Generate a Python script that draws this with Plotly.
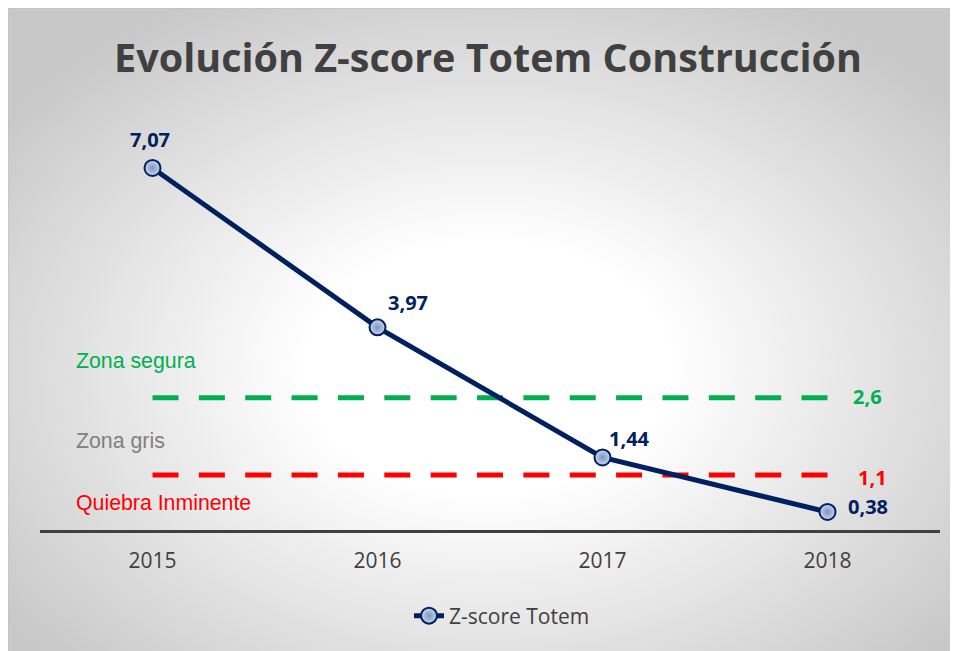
import plotly.graph_objects as go

# ---- data ----
years = ["2015", "2016", "2017", "2018"]
zscore = [7.07, 3.97, 1.44, 0.38]
safe_threshold = 2.6
distress_threshold = 1.1
series_name = "Z-score Totem"
title_text = "Evolución Z-score Totem Construcción"
zone_labels = ["Zona segura", "Zona gris", "Quiebra Inminente"]

W, H = 958, 651
NAVY = "#002060"
GREEN = "#00B050"
RED = "#FF0000"
DARK = "#404040"

def fmt(v, nd=2):
    return (f"{v:.{nd}f}").replace(".", ",")

fig = go.Figure()

# background panel with radial gradient (pixel coordinates on axis x/y)
cx, cy, ax_, by_ = 480, 360, 600, 420
fig.add_trace(go.Scatter(
    x=[cx - ax_, cx + ax_, cx + ax_, cx - ax_, cx - ax_],
    y=[cy - by_, cy - by_, cy + by_, cy + by_, cy - by_],
    mode="lines", fill="toself",
    line=dict(color="rgba(0,0,0,0)", width=0),
    fillgradient=dict(type="radial",
                      colorscale=[[0, "#FFFFFF"], [0.3, "#FFFFFF"], [1, "#C8C8C8"]]),
    xaxis="x", yaxis="y", showlegend=False, hoverinfo="skip",
))

# threshold lines
for val, col in [(safe_threshold, GREEN), (distress_threshold, RED)]:
    fig.add_trace(go.Scatter(
        x=years, y=[val] * len(years),
        mode="lines",
        line=dict(color=col, width=5, dash="26px,20.36px"),
        xaxis="x2", yaxis="y2", showlegend=False, hoverinfo="skip",
    ))

# main series
fig.add_trace(go.Scatter(
    x=years, y=zscore, name=series_name,
    mode="lines+markers",
    line=dict(color=NAVY, width=5),
    marker=dict(size=16, color="#C9D6EC",
                gradient=dict(type="radial", color="#7D95C0"),
                line=dict(color=NAVY, width=2)),
    xaxis="x2", yaxis="y2", cliponaxis=False,
))

annotations = []
# value labels (category axis: annotation x given as category index)
lab_font = dict(family="Open Sans", size=20, color=NAVY, weight="bold")
label_pos = [("center", -3, 28), ("left", 8, 25), ("left", 4, 19), ("left", 18, 5)]
for i, (v, (xa, xs, ys)) in enumerate(zip(zscore, label_pos)):
    annotations.append(dict(
        text=fmt(v), x=i, y=v, xref="x2", yref="y2",
        xanchor=xa, yanchor="middle", xshift=xs, yshift=ys,
        showarrow=False, font=lab_font,
    ))
last = len(years) - 1
# threshold labels
annotations.append(dict(
    text=fmt(safe_threshold, 1), x=last, y=safe_threshold, xref="x2", yref="y2",
    xanchor="left", yanchor="middle", xshift=23, yshift=1, showarrow=False,
    font=dict(family="Open Sans", size=20, color=GREEN, weight="bold"),
))
annotations.append(dict(
    text=fmt(distress_threshold, 1), x=last, y=distress_threshold, xref="x2", yref="y2",
    xanchor="right", yanchor="middle", xshift=61, yshift=-3, showarrow=False,
    font=dict(family="Open Sans", size=20, color=RED, weight="bold"),
))

# zone annotations
zone_y_px = [353, 433, 495]
zone_cols = [GREEN, "#808080", RED]
for lab, ypx, col in zip(zone_labels, zone_y_px, zone_cols):
    annotations.append(dict(
        text=lab, xref="paper", yref="paper",
        x=66 / W, y=(H - ypx) / H, xanchor="left", yanchor="middle",
        showarrow=False,
        font=dict(family="Liberation Sans, Arial", size=21.3, color=col),
    ))

fig.update_layout(
    width=W, height=H,
    margin=dict(l=0, r=0, t=0, b=0),
    paper_bgcolor="white", plot_bgcolor="rgba(0,0,0,0)",
    title=dict(text=title_text, x=480 / W, y=1 - 50 / H,
               xanchor="center", yanchor="middle",
               font=dict(family="Open Sans", size=39.5, color=DARK, weight="bold")),
    xaxis=dict(domain=[0, 1], range=[0, W], visible=False, fixedrange=True),
    yaxis=dict(domain=[0, 1], range=[H, 0], visible=False, fixedrange=True),
    xaxis2=dict(domain=[32 / W, 932 / W], anchor="y2", type="category",
                range=[-0.5, 3.5], showgrid=False, zeroline=False,
                showline=True, linecolor=DARK, linewidth=3,
                ticks="", ticklabelstandoff=10,
                tickfont=dict(family="Open Sans", size=21, color=DARK)),
    yaxis2=dict(domain=[(H - 521.5) / H, (H - 112.1) / H], anchor="x2",
                range=[0.039, 8], showgrid=False, zeroline=False,
                showline=False, showticklabels=False),
    legend=dict(orientation="h", x=494 / W, xanchor="center",
                y=(H - 608) / H, yanchor="middle",
                bgcolor="rgba(0,0,0,0)",
                font=dict(family="Open Sans", size=21, color=DARK)),
    annotations=annotations,
    shapes=[dict(type="rect", xref="paper", yref="paper", x0=0, y0=0, x1=1, y1=1,
                 line=dict(color="#BFBFBF", width=1), layer="above")],
    showlegend=True,
)

fig.write_html("out.html")
